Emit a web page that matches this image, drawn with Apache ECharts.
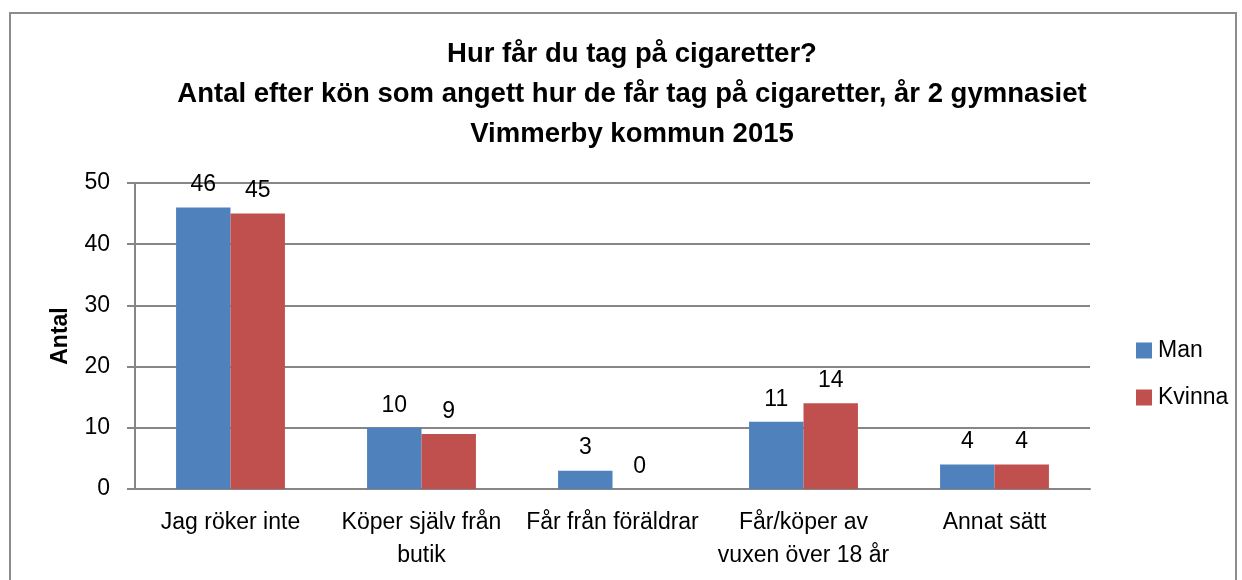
<!DOCTYPE html>
<html><head><meta charset="utf-8">
<script src="https://cdn.jsdelivr.net/npm/echarts@6/dist/echarts.min.js"></script>
<style>html,body{margin:0;padding:0;background:#fff}#c{width:1242px;height:580px}
#frame{position:absolute;left:9px;top:12px;width:1228px;height:600px;border:2px solid #8c8c8c;box-sizing:border-box;pointer-events:none}</style>
</head><body><div id="c"></div><div id="frame"></div>
<script>
var categories = ['Jag röker inte', 'Köper själv från\nbutik', 'Får från föräldrar', 'Får/köper av\nvuxen över 18 år', 'Annat sätt'];
var man = [46, 10, 3, 11, 4];
var kvinna = [45, 9, 0, 14, 4];
var seriesNames = ['Man', 'Kvinna'];
var titleLines = ['Hur får du tag på cigaretter?', 'Antal efter kön som angett hur de får tag på cigaretter, år 2 gymnasiet', 'Vimmerby kommun 2015'];
var yName = 'Antal';

var FONT = 'Liberation Sans';
var chart = echarts.init(document.getElementById('c'));
var lbl = {show: true, position: 'top', fontSize: 23, color: '#000', fontFamily: FONT, distance: 11};
chart.setOption({
  animation: false,
  title: {text: titleLines.join('\n'), left: 627, top: 29, textAlign: 'center',
    textStyle: {fontFamily: FONT, fontWeight: 'bold', fontSize: 27.5, lineHeight: 40, color: '#000'}},
  legend: {orient: 'vertical', left: 1131, top: 334, itemWidth: 16, itemHeight: 16, itemGap: 24, itemStyle: {borderWidth: 0},
    textStyle: {fontFamily: FONT, fontSize: 23, color: '#000', padding: [0, 0, 0, 1]}, icon: 'rect', data: seriesNames},
  grid: {left: 135, right: 152, top: 183, bottom: 91, containLabel: false},
  xAxis: {type: 'category', data: categories,
    axisLine: {lineStyle: {color: '#868686', width: 2}},
    axisTick: {show: false},
    axisLabel: {fontFamily: FONT, fontSize: 23, color: '#000', margin: 17, lineHeight: 33, interval: 0}},
  yAxis: {type: 'value', min: 0, max: 50, interval: 10,
    name: yName, nameLocation: 'middle', nameGap: 63,
    nameTextStyle: {fontFamily: FONT, fontWeight: 'bold', fontSize: 23, color: '#000'},
    axisLine: {show: true, lineStyle: {color: '#868686', width: 2}},
    axisTick: {show: true, length: 8, lineStyle: {color: '#868686', width: 2}},
    axisLabel: {fontFamily: FONT, fontSize: 23, color: '#000', margin: 25},
    splitLine: {lineStyle: {color: '#868686', width: 2}}},
  series: [
    {name: seriesNames[0], type: 'bar', data: man, barGap: '0%', barCategoryGap: '43%',
      itemStyle: {color: '#4F81BD'}, label: lbl},
    {name: seriesNames[1], type: 'bar', data: kvinna,
      itemStyle: {color: '#C0504D'}, label: lbl}
  ]
});
</script></body></html>
